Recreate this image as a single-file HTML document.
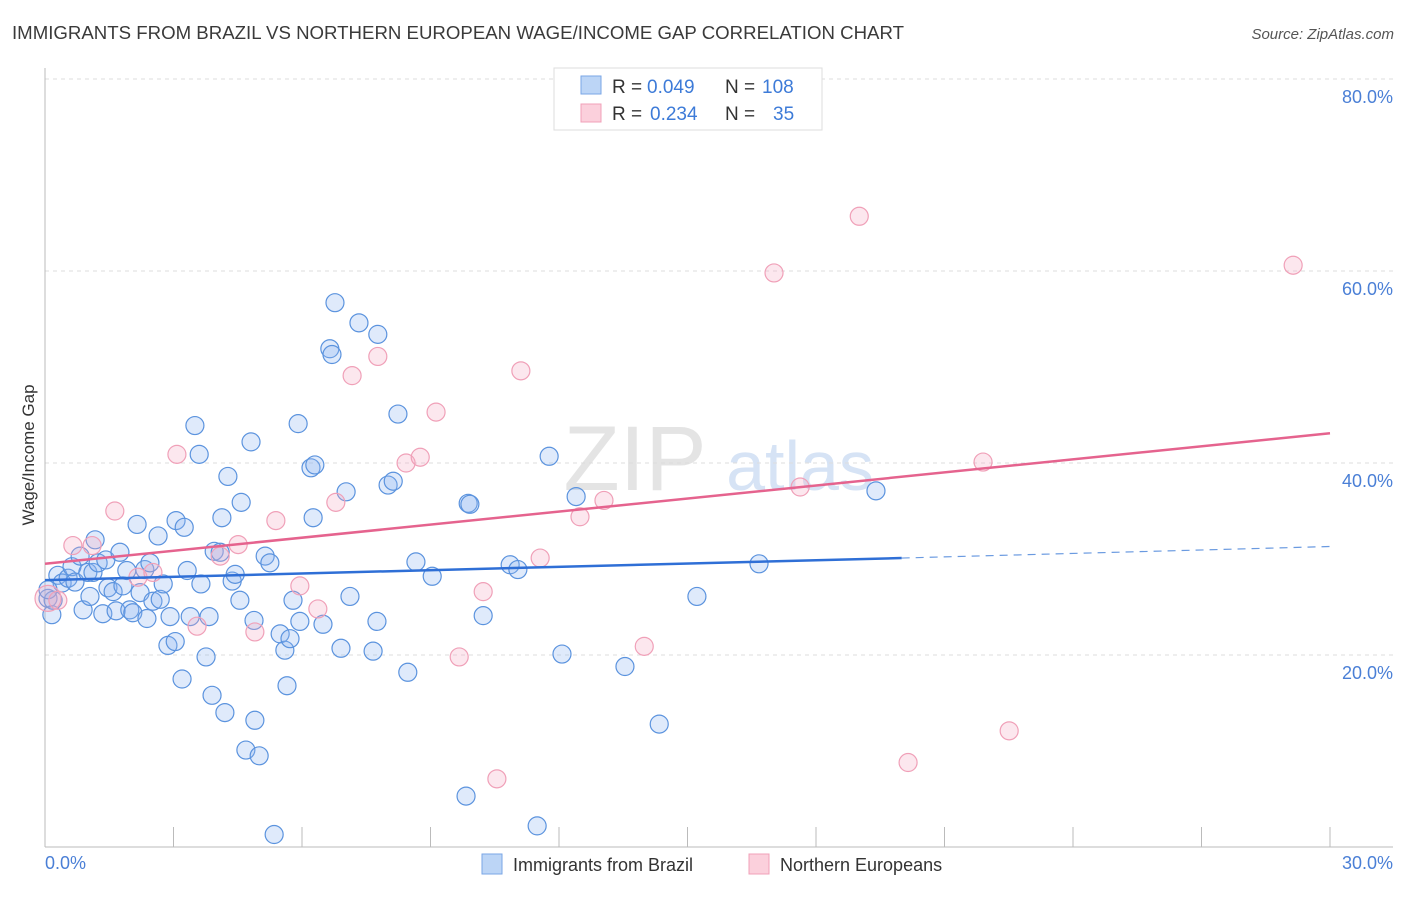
<!DOCTYPE html>
<html><head><meta charset="utf-8"><style>
body{margin:0;background:#fff;font-family:"Liberation Sans",sans-serif;}
svg text{font-family:"Liberation Sans",sans-serif;}
</style></head><body>
<svg id="c" width="1406" height="892" xmlns="http://www.w3.org/2000/svg">
<text x="12" y="39" font-size="18" fill="#3a3a3a" textLength="892" lengthAdjust="spacingAndGlyphs">IMMIGRANTS FROM BRAZIL VS NORTHERN EUROPEAN WAGE/INCOME GAP CORRELATION CHART</text>
<text x="1394" y="39" font-size="15" fill="#555" text-anchor="end" font-style="italic">Source: ZipAtlas.com</text>
<text x="635" y="490" font-size="92" fill="#e4e4e4" font-family="Liberation Serif" text-anchor="middle">ZIP</text>
<text x="800" y="490" font-size="70" fill="#d6e3f5" text-anchor="middle">atlas</text>
<g id="grid"></g>
<line x1="45" y1="68" x2="45" y2="847" stroke="#bbb"/>
<line x1="45" y1="847" x2="1393" y2="847" stroke="#bbb"/>
<text x="34" y="455" font-size="17" fill="#333" text-anchor="middle" transform="rotate(-90 34 455)">Wage/Income Gap</text>
<text x="45" y="869" font-size="18" fill="#4a7fd6">0.0%</text>
<text x="1393" y="869" font-size="18" fill="#4a7fd6" text-anchor="end">30.0%</text>
<g id="pts"></g>
<g id="lines"></g>
<g>
<rect x="554" y="68" width="268" height="62" fill="#fff" stroke="#ddd"/>
<rect x="581" y="76" width="20" height="18" fill="#bcd5f6" stroke="#7aa6e6"/>
<rect x="581" y="104" width="20" height="18" fill="#fbd0dc" stroke="#f0a0b8"/>
<text x="612" y="93" font-size="19" fill="#333">R =</text>
<text x="647" y="93" font-size="19" fill="#3d7bd8">0.049</text>
<text x="725" y="93" font-size="19" fill="#333">N =</text>
<text x="762" y="93" font-size="19" fill="#3d7bd8">108</text>
<text x="612" y="120" font-size="19" fill="#333">R =</text>
<text x="650" y="120" font-size="19" fill="#3d7bd8">0.234</text>
<text x="725" y="120" font-size="19" fill="#333">N =</text>
<text x="773" y="120" font-size="19" fill="#3d7bd8">35</text>
</g>
<g>
<rect x="482" y="854" width="20" height="20" fill="#bcd5f6" stroke="#7aa6e6"/>
<text x="513" y="871" font-size="18" fill="#333">Immigrants from Brazil</text>
<rect x="749" y="854" width="20" height="20" fill="#fbd0dc" stroke="#f0a0b8"/>
<text x="780" y="871" font-size="18" fill="#333">Northern Europeans</text>
</g>
</svg>
<script>
const yTicks=[20,40,60,80];
const xTicks=[3,6,9,12,15,18,21,24,27,30];
const blueX=[0.07,0.16,0.30,0.40,0.54,0.63,0.70,0.82,0.89,1.00,1.05,1.12,1.17,1.24,1.35,1.42,1.47,1.59,1.66,1.75,1.82,1.91,1.98,2.05,2.15,2.22,2.33,2.38,2.45,2.52,2.64,2.69,2.76,2.87,2.92,3.04,3.06,3.20,3.25,3.32,3.39,3.50,3.60,3.64,3.76,3.83,3.90,3.95,4.09,4.13,4.20,4.27,4.37,4.44,4.55,4.58,4.69,4.81,4.88,4.90,5.00,5.14,5.25,5.35,5.49,5.60,5.65,5.72,5.79,5.91,5.95,6.21,6.26,6.30,6.49,6.65,6.77,6.70,6.91,7.03,7.12,7.33,7.66,7.75,7.77,8.01,8.13,8.24,8.47,8.66,9.04,9.83,9.88,9.92,10.23,10.86,11.04,11.49,11.77,12.07,12.40,13.54,14.34,15.22,16.67,19.40,0.19,0.07];
const blueY=[25.9,24.2,28.3,27.5,28.0,29.2,27.6,30.3,24.7,28.6,26.1,28.6,32.0,29.6,24.3,29.9,27.0,26.6,24.6,30.7,27.2,28.8,24.7,24.4,33.6,26.5,28.9,23.8,29.6,25.6,32.4,25.8,27.4,21.0,24.0,21.4,34.0,17.5,33.3,28.8,24.0,43.9,40.9,27.4,19.8,24.0,15.8,30.8,30.7,34.3,14.0,38.6,27.7,28.4,25.7,35.9,10.1,42.2,23.6,13.2,9.5,30.3,29.6,1.3,22.2,20.5,16.8,21.7,25.7,44.1,23.5,39.5,34.3,39.8,23.2,51.9,56.7,51.3,20.7,37.0,26.1,54.6,20.4,23.5,53.4,37.7,38.1,45.1,18.2,29.7,28.2,5.3,35.8,35.7,24.1,29.4,28.9,2.2,40.7,20.1,36.5,18.8,12.8,26.1,29.5,37.1,25.7,26.8];
const pinkX=[0.07,0.30,0.65,1.10,1.63,2.17,2.52,3.08,3.55,4.09,4.51,4.90,5.39,5.95,6.37,6.79,7.17,7.77,8.43,8.76,9.13,9.67,10.23,10.55,11.11,11.56,12.49,13.05,13.99,17.02,17.63,19.01,20.15,21.90,22.51,29.14];
const pinkY=[25.9,25.7,31.4,31.4,35.0,28.1,28.6,40.9,23.0,30.3,31.5,22.4,34.0,27.2,24.8,35.9,49.1,51.1,40.0,40.6,45.3,19.8,26.6,7.1,49.6,30.1,34.4,36.1,20.9,59.8,37.5,65.7,8.8,40.1,12.1,60.6];
const blueTrend=[27.8,30.1,31.3]; const blueTrendX=[0,20,30];
const pinkTrend=[29.5,43.1]; const pinkTrendX=[0,30];
const X=v=>45+v/30*1285, Y=v=>847-v/20*192;
const NS="http://www.w3.org/2000/svg";
function mk(tag,attrs,parent){const e=document.createElementNS(NS,tag);for(const k in attrs)e.setAttribute(k,attrs[k]);parent.appendChild(e);return e;}
const grid=document.getElementById('grid');
yTicks.forEach(t=>{
 const l=mk('line',{x1:45,x2:1393,y1:Y(t),y2:Y(t),stroke:'#ddd','stroke-dasharray':'4,4'},grid);
 
 
 const tx=mk('text',{x:1393,y:Y(t)+24,'font-size':18,fill:'#4a7fd6','text-anchor':'end'},grid);
 tx.textContent=t.toFixed(1)+'%';
 
 
});
xTicks.forEach(t=>{
 const l=mk('line',{x1:X(t),x2:X(t),y1:827,y2:847,stroke:'#bbb'},grid);
 
 
});
const pts=document.getElementById('pts');
blueX.forEach((x,i)=>{
 const c=mk('circle',{cx:X(x),cy:Y(blueY[i]),r:9,fill:'rgba(140,180,240,0.28)',stroke:'#5b93de','stroke-width':1.2},pts);
 
 
});
pinkX.forEach((x,i)=>{
 const c=mk('circle',{cx:X(x),cy:Y(pinkY[i]),r:i===0?13:9,fill:'rgba(245,170,195,0.28)',stroke:'#f0a0b8','stroke-width':1.2},pts);
 
 
});
const lines=document.getElementById('lines');
const b1=mk('line',{x1:X(blueTrendX[0]),y1:Y(blueTrend[0]),x2:X(blueTrendX[1]),y2:Y(blueTrend[1]),stroke:'#2f6fd6','stroke-width':2.5},lines);


const b2=mk('line',{x1:X(blueTrendX[1]),y1:Y(blueTrend[1]),x2:X(blueTrendX[2]),y2:Y(blueTrend[2]),stroke:'#6a9ae0','stroke-width':1.2,'stroke-dasharray':'8,6'},lines);


const p1=mk('line',{x1:X(pinkTrendX[0]),y1:Y(pinkTrend[0]),x2:X(pinkTrendX[1]),y2:Y(pinkTrend[1]),stroke:'#e5638e','stroke-width':2.5},lines);


</script>
</body></html>
